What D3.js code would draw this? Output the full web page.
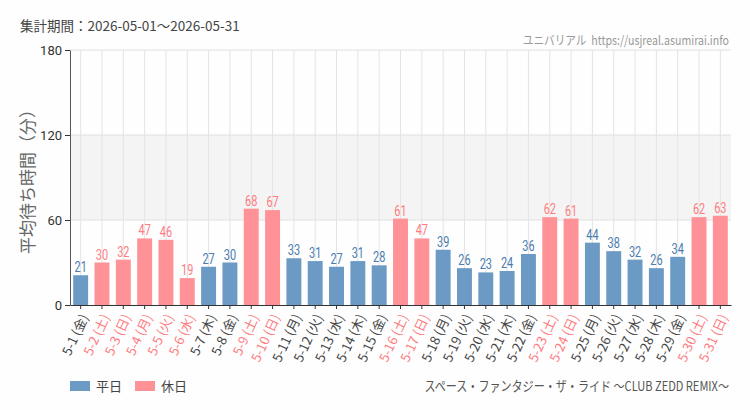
<!DOCTYPE html>
<html>
<head>
<meta charset="utf-8">
<script src="https://cdn.jsdelivr.net/npm/d3@7"></script>
<style>
  body { margin: 0; background: #fdfefd; }
  text { font-family: "Noto Sans CJK JP", "Noto Sans", sans-serif; }
</style>
</head>
<body>
<div id="chart"></div>
<script>
var days = ["5-1","5-2","5-3","5-4","5-5","5-6","5-7","5-8","5-9","5-10","5-11","5-12","5-13","5-14","5-15","5-16","5-17","5-18","5-19","5-20","5-21","5-22","5-23","5-24","5-25","5-26","5-27","5-28","5-29","5-30","5-31"];
var weekdays = ["金","土","日","月","火","水","木","金","土","日","月","火","水","木","金","土","日","月","火","水","木","金","土","日","月","火","水","木","金","土","日"];
var waits = [21,30,32,47,46,19,27,30,68,67,33,31,27,31,28,61,47,39,26,23,24,36,62,61,44,38,32,26,34,62,63];
var holidays = ["5-2","5-3","5-4","5-5","5-6","5-9","5-10","5-16","5-17","5-23","5-24","5-30","5-31"];
var yTicks = [0, 60, 120, 180];

var width = 750, height = 410;
var margin = { left: 70, right: 19, top: 50, bottom: 105 };

var blue = "#6b9ac4", pink = "#ff9297";
var blueText = "#4a7cb0", pinkText = "#ff7b81";

var svg = d3.select("#chart").append("svg")
  .attr("width", width).attr("height", height);

var x = d3.scaleBand().domain(days)
  .range([margin.left, width - margin.right]).paddingInner(0.3).paddingOuter(0.15);
var y = d3.scaleLinear().domain([0, 180]).range([height - margin.bottom, margin.top]);

// grey band 60-120
svg.append("rect")
  .attr("x", margin.left).attr("width", width - margin.right - margin.left)
  .attr("y", y(120)).attr("height", y(60) - y(120))
  .attr("fill", "#f4f4f4");

// vertical grid
svg.selectAll(".vgrid").data(days).enter().append("line")
  .attr("x1", d => x(d) + x.bandwidth() / 2).attr("x2", d => x(d) + x.bandwidth() / 2)
  .attr("y1", y(180)).attr("y2", y(0))
  .attr("stroke", "#e4e4e4");

// horizontal grid
svg.selectAll(".hgrid").data(yTicks.slice(1)).enter().append("line")
  .attr("x1", margin.left).attr("x2", width - margin.right)
  .attr("y1", d => y(d)).attr("y2", d => y(d))
  .attr("stroke", "#e0e0e0");

function isHoliday(d) { return holidays.indexOf(d) >= 0; }

// bars
svg.selectAll(".bar").data(days).enter().append("rect")
  .attr("x", d => x(d))
  .attr("width", x.bandwidth())
  .attr("y", (d, i) => y(waits[i]))
  .attr("height", (d, i) => y(0) - y(waits[i]))
  .attr("fill", d => isHoliday(d) ? pink : blue);

// value labels
svg.selectAll(".val").data(days).enter().append("text")
  .attr("transform", (d, i) => "translate(" + (x(d) + x.bandwidth() / 2) + "," + (y(waits[i]) - 3) + ") scale(0.78,1)")
  .attr("text-anchor", "middle")
  .style("font-family", "Roboto, sans-serif")
  .style("font-size", "14px")
  .attr("fill", d => isHoliday(d) ? pinkText : blueText)
  .text((d, i) => waits[i]);

// y axis
var yAxis = svg.append("g")
  .attr("transform", "translate(" + margin.left + ",0)")
  .call(d3.axisLeft(y).tickValues(yTicks).tickSize(5).tickSizeOuter(0));
yAxis.select(".domain").attr("stroke", "#555");
yAxis.selectAll(".tick line").attr("stroke", "#333");
yAxis.selectAll("text").style("font-family", "Roboto, sans-serif").style("font-size", "13px").attr("fill", "#333");

// x axis
var xAxis = svg.append("g")
  .attr("transform", "translate(0," + y(0) + ")")
  .call(d3.axisBottom(x).tickSize(4).tickSizeOuter(0).tickFormat(""));
xAxis.select(".domain").attr("stroke", "#333");
xAxis.selectAll(".tick line").attr("stroke", "#333");

svg.selectAll(".xlab").data(days).enter().append("text")
  .attr("transform", d => "translate(" + (x(d) + x.bandwidth() / 2 + 4) + "," + (y(0) + 10) + ") rotate(-65)")
  .attr("text-anchor", "end")
  .attr("dy", "0.35em")
  .style("font-size", "13px")
  .attr("fill", d => isHoliday(d) ? pinkText : "#444")
  .text((d, i) => d + " (" + weekdays[i] + ")");

// titles
svg.append("text").attr("x", 20).attr("y", 31)
  .style("font-size", "13.5px").attr("fill", "#444")
  .text("集計期間：2026-05-01～2026-05-31");

svg.append("text").attr("transform", "translate(729,45) scale(0.85,1)")
  .attr("text-anchor", "end")
  .style("font-size", "12.5px").style("white-space", "pre").attr("fill", "#999")
  .text("ユニバリアル  https://usjreal.asumirai.info");

svg.append("text")
  .attr("transform", "translate(34," + ((y(0) + y(180)) / 2) + ") rotate(-90)")
  .attr("text-anchor", "middle")
  .style("font-size", "17px").attr("fill", "#666")
  .text("平均待ち時間（分）");

// legend
var legend = [["平日", blue], ["休日", pink]];
var lg = svg.selectAll(".legend").data(legend).enter().append("g")
  .attr("transform", (d, i) => "translate(" + (70 + i * 65) + ",381)");
lg.append("rect").attr("width", 20).attr("height", 10).attr("fill", d => d[1]);
lg.append("text").attr("x", 26).attr("y", 5).attr("dy", "0.35em")
  .style("font-size", "13px").attr("fill", "#444").text(d => d[0]);

svg.append("text").attr("transform", "translate(729,391) scale(0.82,1)")
  .attr("text-anchor", "end")
  .style("font-size", "13.5px").attr("fill", "#555")
  .text("スペース・ファンタジー・ザ・ライド ～CLUB ZEDD REMIX～");
</script>
</body>
</html>
